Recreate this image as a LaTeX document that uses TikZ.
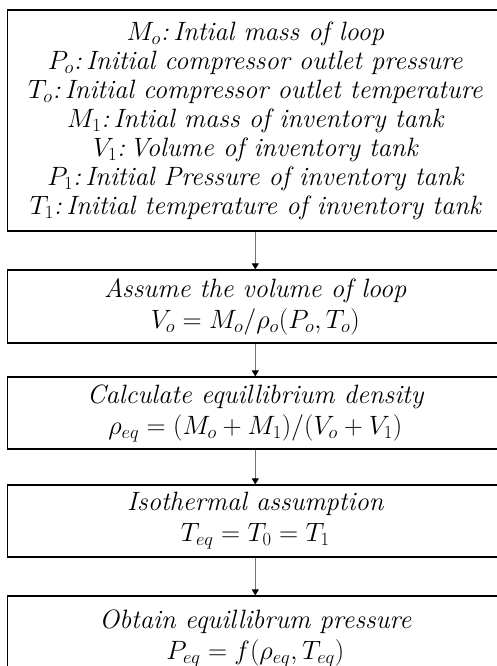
\RequirePackage{fix-cm}
\documentclass[tikz,border=0pt]{standalone}
\usetikzlibrary{arrows.meta}
\begin{document}
\begin{tikzpicture}[x=1pt,y=1pt,
  box/.style={draw=black, line width=1.3pt, minimum width=496pt, inner sep=0pt, align=center,
    font=\fontsize{26.5}{29}\selectfont\itshape},
  twoline/.style={box, font=\fontsize{26.5}{31}\selectfont\itshape},
  flow/.style={draw=black!55, line width=0.8pt, -{Triangle[length=6pt,width=7pt,color=black]}}]
\useasboundingbox (0,0) rectangle (497,-666);
\node[box, minimum height=221pt] (b1) at (255.3,-120.5) {%
$M_o$:\,Intial mass of loop\\
$P_o$:\,Initial compressor outlet pressure\\
$T_o$:\,Initial compressor outlet temperature\\
$M_1$:\,Intial mass of inventory tank\\
$V_1$:\,Volume of inventory tank\\
$P_1$:\,Initial Pressure of inventory tank\\
$T_1$:\,Initial temperature of inventory tank};
\node[twoline, minimum height=73pt] (b2) at (255.3,-306.5) {%
Assume the volume of loop\\ $V_o = M_o/\rho_o(P_o{,}\,T_o)$};
\node[twoline, minimum height=72pt] (b3) at (255.3,-413) {%
Calculate equillibrium density\\ $\rho_{eq} = (M_o + M_1)/(V_o + V_1)$};
\node[twoline, minimum height=72pt] (b4) at (255.3,-521) {%
Isothermal assumption\\ $T_{eq} = T_0 = T_1$};
\node[twoline, minimum height=84pt] (b5) at (255.3,-638) {%
Obtain equillibrum pressure\\ $P_{eq} = f\bigl(\rho_{eq}{,}\,T_{eq}\bigr)$};
\draw[flow] (b1.south) -- (b2.north);
\draw[flow] (b2.south) -- (b3.north);
\draw[flow] (b3.south) -- (b4.north);
\draw[flow] (b4.south) -- (b5.north);
\end{tikzpicture}
\end{document}
